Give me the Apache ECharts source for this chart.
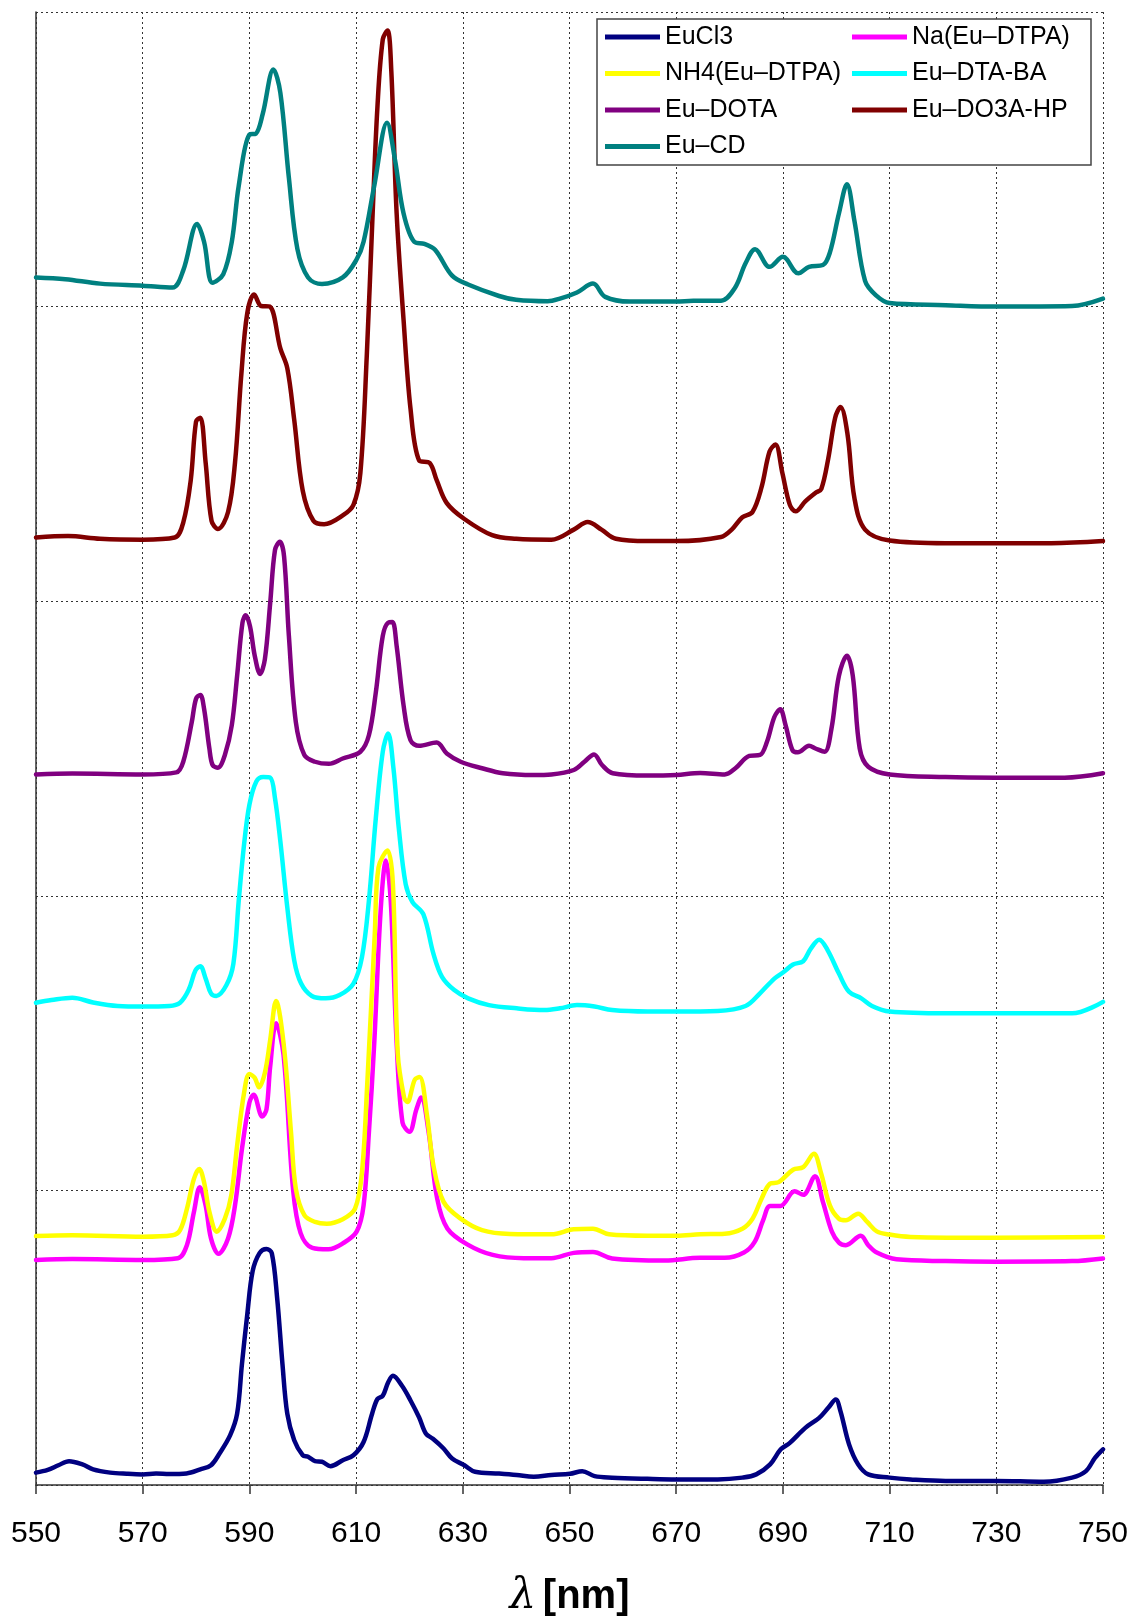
<!DOCTYPE html>
<html>
<head>
<meta charset="utf-8">
<script src="https://cdn.jsdelivr.net/npm/echarts@6/dist/echarts.min.js"></script>
<style>
html,body{margin:0;padding:0;background:#fff;}
#chart{width:1132px;height:1623px;}
</style>
</head>
<body>
<div id="chart"></div>
<script>
// x tick labels (nm)
const xTicks = [550, 570, 590, 610, 630, 650, 670, 690, 710, 730, 750];
const seriesNames = ['EuCl3', 'Na(Eu–DTPA)', 'NH4(Eu–DTPA)', 'Eu–DTA-BA', 'Eu–DOTA', 'Eu–DO3A-HP', 'Eu–CD'];

// [wavelength nm, stacked intensity (arbitrary units)]
const euCl3 = [[550,0.042],[552.2,0.051],[554.2,0.067],[556.2,0.081],[558.7,0.07],[560.7,0.053],[563.9,0.042],[567,0.038],[570,0.036],[572.5,0.039],[575,0.037],[578.2,0.039],[580.8,0.053],[582.8,0.067],[584.4,0.107],[586.4,0.169],[587.7,0.242],[588.6,0.41],[589.6,0.579],[590.6,0.725],[591.9,0.787],[593.2,0.801],[594.2,0.787],[595.2,0.635],[596.2,0.41],[597.1,0.242],[598.4,0.152],[600,0.101],[601,0.096],[602.3,0.081],[603.6,0.079],[605.2,0.064],[607.5,0.084],[609.5,0.101],[611.4,0.146],[613,0.242],[614,0.292],[615,0.303],[616,0.348],[616.9,0.371],[618.6,0.337],[620.2,0.287],[621.8,0.23],[623.1,0.174],[624.4,0.157],[626.4,0.124],[628,0.09],[630.3,0.067],[632.3,0.045],[636.8,0.039],[640.1,0.034],[643.3,0.028],[646.6,0.034],[650.1,0.038],[652.4,0.047],[654.7,0.03],[658,0.025],[664.6,0.021],[670,0.019],[677.8,0.019],[682.4,0.025],[685,0.036],[687.6,0.07],[689.6,0.121],[691.3,0.143],[694.2,0.194],[696.8,0.228],[698.5,0.262],[699.9,0.29],[700.8,0.25],[702.4,0.138],[704.1,0.07],[706,0.036],[710,0.025],[713.9,0.019],[720.5,0.014],[730,0.014],[738.9,0.011],[744.2,0.025],[746.8,0.047],[748.5,0.092],[750,0.121]];

const naDTPA = [[550,0.764],[556.8,0.767],[570,0.764],[576.6,0.77],[578.3,0.815],[579.6,0.927],[580.7,1.011],[581.8,0.949],[582.8,0.837],[584.2,0.785],[586,0.837],[587.3,0.949],[588.6,1.14],[590,1.298],[590.8,1.325],[592.4,1.251],[593.2,1.275],[593.9,1.421],[595,1.567],[596.4,1.46],[598.2,1.0],[599.6,0.855],[601.8,0.805],[604.8,0.8],[607.5,0.82],[610.1,0.86],[611.4,0.949],[612.4,1.197],[613.4,1.5],[614.6,1.95],[615.6,2.12],[616.5,1.98],[617.6,1.5],[618.7,1.23],[620,1.199],[621.3,1.275],[622.2,1.315],[623.6,1.197],[625.2,0.972],[627.1,0.871],[631,0.815],[635.6,0.781],[641.4,0.77],[646.6,0.77],[650.8,0.788],[654.4,0.791],[658,0.769],[667.9,0.762],[674.5,0.771],[679.1,0.771],[682.7,0.789],[684.7,0.825],[686.3,0.899],[687.6,0.947],[689.5,0.947],[692.2,0.997],[693.8,0.985],[696,1.048],[697.5,0.961],[699.2,0.859],[700.5,0.823],[701.8,0.814],[704.6,0.846],[706,0.814],[707.6,0.789],[711.3,0.766],[720.5,0.76],[730,0.758],[744.2,0.76],[750,0.769]];

const nh4DTPA = [[550,0.845],[556.8,0.848],[570,0.843],[575.6,0.848],[577,0.865],[578.3,0.938],[579.6,1.039],[580.6,1.073],[581.5,1.028],[582.5,0.927],[583.9,0.86],[585.4,0.904],[586.6,0.983],[587.7,1.152],[589,1.331],[590,1.395],[591,1.382],[591.8,1.35],[592.9,1.399],[593.9,1.511],[595,1.643],[596.4,1.5],[597.8,1.197],[598.7,1.006],[600.3,0.916],[602.3,0.893],[604.5,0.887],[607.5,0.902],[609.8,0.938],[611.1,1.062],[612.1,1.365],[613.5,1.871],[614.2,2.096],[615.9,2.154],[616.9,2.039],[617.8,1.466],[619,1.315],[619.6,1.3],[621,1.376],[621.9,1.385],[623.3,1.253],[624.5,1.084],[626.4,0.961],[629.6,0.904],[633.6,0.865],[638.8,0.852],[646.6,0.851],[650.8,0.868],[654.4,0.87],[657.4,0.851],[664.6,0.846],[670,0.846],[674.5,0.851],[679.1,0.853],[682.4,0.87],[684.3,0.904],[686,0.972],[687.6,1.023],[689.2,1.028],[691.9,1.07],[693.8,1.079],[695.8,1.124],[697.1,1.062],[698.8,0.949],[700.5,0.904],[701.8,0.899],[704.1,0.921],[705.8,0.893],[707.6,0.861],[710,0.85],[713.9,0.842],[730,0.839],[750,0.842]];

const euDTABA = [[550,1.637],[552.9,1.646],[556.8,1.654],[560.7,1.638],[565.3,1.626],[570,1.624],[575,1.626],[577,1.637],[578.6,1.68],[579.9,1.747],[580.8,1.761],[581.8,1.719],[582.8,1.669],[583.8,1.66],[585.7,1.697],[587,1.77],[588,1.983],[589,2.174],[590,2.309],[591.3,2.388],[592.6,2.403],[593.9,2.401],[594.8,2.331],[595.8,2.185],[597.1,1.961],[598.4,1.781],[599.7,1.702],[601.7,1.66],[604.3,1.652],[606.9,1.663],[609.5,1.702],[611.1,1.792],[612.4,1.983],[613.7,2.264],[615,2.489],[616,2.551],[617,2.433],[618,2.23],[619.3,2.039],[620.6,1.978],[622.6,1.938],[624.5,1.803],[626.1,1.725],[628.4,1.68],[631,1.652],[634.9,1.629],[640.1,1.618],[645.3,1.612],[648.2,1.618],[651.4,1.629],[654.7,1.624],[658,1.612],[664.6,1.607],[670,1.607],[677.8,1.609],[683,1.626],[685.7,1.669],[688.4,1.719],[690.2,1.742],[691.9,1.767],[693.8,1.778],[695.2,1.82],[696.8,1.851],[698.4,1.815],[700.5,1.736],[702.4,1.674],[704.7,1.652],[706.7,1.626],[710,1.607],[720.5,1.601],[730,1.601],[744.2,1.601],[750,1.64]];

const euDOTA = [[550,2.412],[556.8,2.415],[570,2.412],[576.3,2.419],[577.6,2.455],[579.2,2.59],[580,2.669],[580.8,2.682],[581.5,2.635],[582.5,2.5],[583.1,2.444],[584.1,2.435],[585.4,2.478],[586.7,2.579],[587.7,2.747],[588.7,2.927],[589.3,2.952],[590.1,2.916],[591,2.815],[592,2.753],[592.9,2.803],[593.9,2.994],[594.8,3.174],[595.7,3.202],[596.5,3.152],[597.4,2.882],[598.7,2.59],[600.3,2.478],[602.3,2.455],[604.9,2.448],[607.5,2.466],[610.8,2.489],[612.4,2.545],[613.7,2.691],[615,2.882],[616,2.927],[616.8,2.929],[617.6,2.848],[618.9,2.646],[620.2,2.528],[621.8,2.509],[625.1,2.52],[627,2.483],[629.6,2.455],[633.6,2.433],[637.5,2.416],[643.3,2.41],[646.6,2.412],[650.8,2.427],[652.8,2.455],[654.6,2.48],[656.1,2.444],[658.1,2.416],[664.6,2.408],[670,2.41],[674.5,2.417],[679.1,2.412],[681.1,2.433],[683.7,2.475],[685.7,2.478],[687,2.522],[688.4,2.607],[689.5,2.633],[690.5,2.579],[691.8,2.494],[692.8,2.487],[694.9,2.509],[696.1,2.5],[697.8,2.489],[699.1,2.567],[700.5,2.747],[702,2.815],[703.1,2.747],[704.4,2.5],[706,2.438],[710,2.412],[720.5,2.403],[730,2.401],[742.8,2.401],[750,2.416]];

const euDO3AHP = [[550,3.216],[556,3.221],[562,3.212],[570,3.209],[576,3.216],[577.6,3.267],[579,3.41],[580,3.61],[580.8,3.623],[581.8,3.47],[582.9,3.273],[584.1,3.245],[586,3.303],[587.3,3.47],[588.5,3.773],[589.6,3.978],[590.9,4.041],[592.2,4.002],[593.8,4.0],[595.8,3.858],[597.1,3.791],[598.4,3.616],[600,3.375],[602,3.273],[604,3.261],[607.5,3.291],[609.5,3.327],[610.8,3.435],[612,3.833],[613.1,4.316],[614,4.678],[615,4.907],[615.9,4.937],[616.6,4.799],[617.6,4.316],[618.9,3.954],[620.2,3.653],[621.8,3.478],[623.8,3.469],[625.1,3.411],[627,3.333],[630.3,3.279],[635.5,3.224],[640,3.212],[646.6,3.209],[650.8,3.243],[653.4,3.269],[656,3.243],[658.7,3.212],[664.6,3.204],[670,3.204],[678.4,3.218],[680.4,3.243],[682.4,3.285],[684.3,3.303],[686,3.387],[687.5,3.508],[688.6,3.532],[689.9,3.435],[691.3,3.327],[692.4,3.305],[694.2,3.339],[696.2,3.369],[697.2,3.381],[698.5,3.484],[699.8,3.623],[700.8,3.659],[702.1,3.568],[703.4,3.351],[705.4,3.243],[710,3.206],[720.5,3.197],[730,3.197],[740.3,3.197],[750,3.204]];

const euCD = [[550,4.099],[555.5,4.093],[562,4.078],[570,4.071],[575.6,4.065],[577.6,4.123],[580.2,4.28],[581.5,4.22],[583.1,4.081],[585.1,4.11],[586.7,4.22],[588,4.41],[590,4.584],[591.2,4.587],[592.5,4.654],[594.5,4.805],[595.8,4.726],[597.4,4.437],[599,4.195],[601,4.099],[603.6,4.077],[607.5,4.099],[610.1,4.16],[611.4,4.22],[613.4,4.41],[615.8,4.624],[617.3,4.497],[618.9,4.316],[620.9,4.22],[622.8,4.213],[624.8,4.193],[628,4.105],[631,4.075],[636.8,4.036],[640,4.023],[645.9,4.018],[648.2,4.027],[651.4,4.048],[654.4,4.078],[656.7,4.033],[661.3,4.017],[670,4.017],[673.2,4.02],[678.4,4.02],[681,4.063],[683,4.147],[684.8,4.195],[687.5,4.135],[690,4.169],[692.9,4.113],[694.9,4.135],[697.5,4.141],[698.8,4.183],[700.5,4.316],[702,4.415],[703.4,4.292],[705.4,4.087],[707.4,4.039],[710,4.012],[720.5,4.005],[730,4.0],[744.2,4.002],[750,4.027]];

const seriesData = [euCl3, naDTPA, nh4DTPA, euDTABA, euDOTA, euDO3AHP, euCD];
const seriesColors = ['#000080', '#FF00FF', '#FFFF00', '#00FFFF', '#800080', '#800000', '#008080'];

const chart = echarts.init(document.getElementById('chart'), null, {renderer: 'canvas'});

const legendText = {fontSize: 25, fontFamily: 'Liberation Sans, Arial, sans-serif', color: '#000', lineHeight: 26};
const legendCommon = {
  orient: 'vertical', top: 24, itemWidth: 55, itemHeight: 5, itemGap: 10.5, itemTextGap: 4,
  icon: 'rect', padding: 0, selectedMode: false, textStyle: legendText, z: 10
};

const option = {
  backgroundColor: '#fff',
  animation: false,
  grid: {left: 36, right: 29, top: 12, bottom: 128, containLabel: false},
  graphic: [{
    type: 'rect', z: 5,
    shape: {x: 597, y: 19, width: 494, height: 146},
    style: {fill: '#fff', stroke: '#444', lineWidth: 1.5}
  }],
  legend: [
    Object.assign({}, legendCommon, {left: 605, data: [seriesNames[0], seriesNames[2], seriesNames[4], seriesNames[6]]}),
    Object.assign({}, legendCommon, {left: 852, data: [seriesNames[1], seriesNames[3], seriesNames[5]]})
  ],
  xAxis: {
    type: 'value', min: xTicks[0], max: xTicks[xTicks.length - 1], interval: 20,
    name: '{l|λ}  {b|[nm]}', nameLocation: 'middle', nameGap: 91,
    nameTextStyle: {
      rich: {
        l: {fontFamily: 'DejaVu Serif, Liberation Serif, serif', fontStyle: 'italic', fontSize: 42, color: '#000'},
        b: {fontFamily: 'Liberation Sans, Arial, sans-serif', fontWeight: 'bold', fontSize: 40, color: '#000'}
      }
    },
    axisLine: {show: true, onZero: false, lineStyle: {color: '#333', width: 1.5}},
    axisTick: {show: true, inside: false, length: 9, lineStyle: {color: '#333', width: 1.5}},
    axisLabel: {margin: 34, fontSize: 30, fontFamily: 'Liberation Sans, Arial, sans-serif', color: '#000',
      customValues: xTicks},
    splitLine: {show: true, lineStyle: {color: '#333', width: 1, type: [2, 3]}}
  },
  yAxis: {
    type: 'value', min: 0, max: 5, interval: 1,
    axisLine: {show: true, lineStyle: {color: '#333', width: 1.5}},
    axisTick: {show: false},
    axisLabel: {show: false},
    splitLine: {show: true, lineStyle: {color: '#333', width: 1, type: [2, 3]}}
  },
  series: seriesNames.map((name, i) => ({
    name: name,
    type: 'line',
    data: seriesData[i],
    showSymbol: false,
    symbol: 'none',
    smooth: 0.35,
    color: seriesColors[i],
    lineStyle: {color: seriesColors[i], width: 4.5, cap: 'round', join: 'round'},
    z: 2 + i * 0.01
  }))
};
chart.setOption(option);
</script>
</body>
</html>
